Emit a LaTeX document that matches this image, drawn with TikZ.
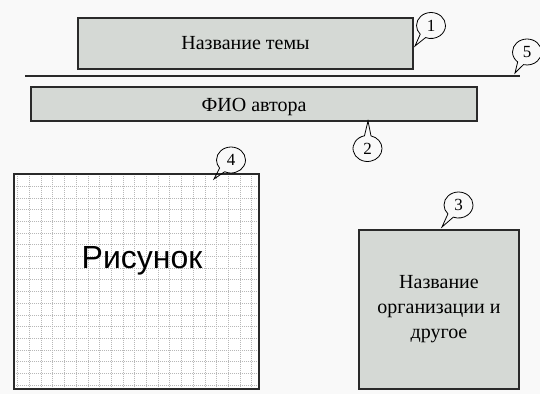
\documentclass[tikz,border=0pt]{standalone}
\usepackage{fontspec}
\setmainfont{Liberation Serif}
\newfontfamily\risfont{Liberation Sans}
\usetikzlibrary{shapes.callouts}
\definecolor{bg}{HTML}{F9F9F9}
\definecolor{boxfill}{HTML}{D5D9D5}
\definecolor{edgec}{HTML}{2A2A2A}
\definecolor{gridc}{HTML}{B8B8B8}
\begin{document}
\begin{tikzpicture}[x=1pt,y=-1pt,
  panel/.style={draw=edgec, line width=1.5pt, fill=boxfill, inner sep=0pt,
    font=\fontsize{20}{25}\selectfont},
  bubble/.style={ellipse callout, draw=black, line width=0.8pt, inner sep=0pt,
    minimum width=29pt, minimum height=26pt, callout pointer arc=26,
    font=\fontsize{17}{17}\selectfont},
  gridline/.style={gridc, line width=1pt, dash pattern=on 1pt off 1pt}
]
\fill[bg] (0,0) rectangle (540,394);
\useasboundingbox (0,0) rectangle (540,394);

% title box
\node[panel, minimum width=335pt, minimum height=51pt] (title) at (245.5,43.5) {Название темы};
% line 5
\coordinate (l5a) at (25,76);
\coordinate (l5b) at (520,76);
\draw[edgec, line width=1.5pt] (l5a) -- (l5b);
% author box
\node[panel, minimum width=446pt, minimum height=34pt, text height=14pt, text depth=0pt] (fio) at (254,104) {ФИО автора};

% picture box
\node[fill=white, minimum width=245pt, minimum height=215pt, inner sep=0pt] (pic) at (136.5,281.5) {};
\begin{scope}
\clip (pic.north west) rectangle (pic.south east);
\foreach \i in {0,...,20} {
  \draw[gridline] ([xshift={4pt+\i*11.7pt}]pic.north west) -- ([xshift={4pt+\i*11.7pt}]pic.south west);
}
\foreach \j in {0,...,18} {
  \draw[gridline] ([yshift={-12.5pt-\j*11.7pt}]pic.north west) -- ([yshift={-12.5pt-\j*11.7pt}]pic.north east);
}
\end{scope}
\draw[edgec, line width=1.5pt] (pic.north west) rectangle (pic.south east);
\node[anchor=base, inner sep=0pt, font=\risfont\fontsize{32}{32}\selectfont] (ris) at (142,268) {Рисунок};

% organisation box
\node[panel, minimum width=160pt, minimum height=159pt, align=center] (org) at (439,309.5) {Название\\организации и\\другое};

% callout pointers
\coordinate (p1) at (415,46);
\coordinate (p2) at (368,121);
\coordinate (p3) at (442,227);
\coordinate (p4) at (214,179);
\coordinate (p5) at (515,73);

\node[bubble, callout absolute pointer={(p1)}] (c1) at (431,25.5) {1};
\node[bubble, callout absolute pointer={(p2)}] (c2) at (367.5,148.5) {2};
\node[bubble, callout absolute pointer={(p3)}] (c3) at (458.5,205) {3};
\node[bubble, callout absolute pointer={(p4)}] (c4) at (231,160) {4};
\node[bubble, callout absolute pointer={(p5)}] (c5) at (527,52) {5};
\end{tikzpicture}
\end{document}
